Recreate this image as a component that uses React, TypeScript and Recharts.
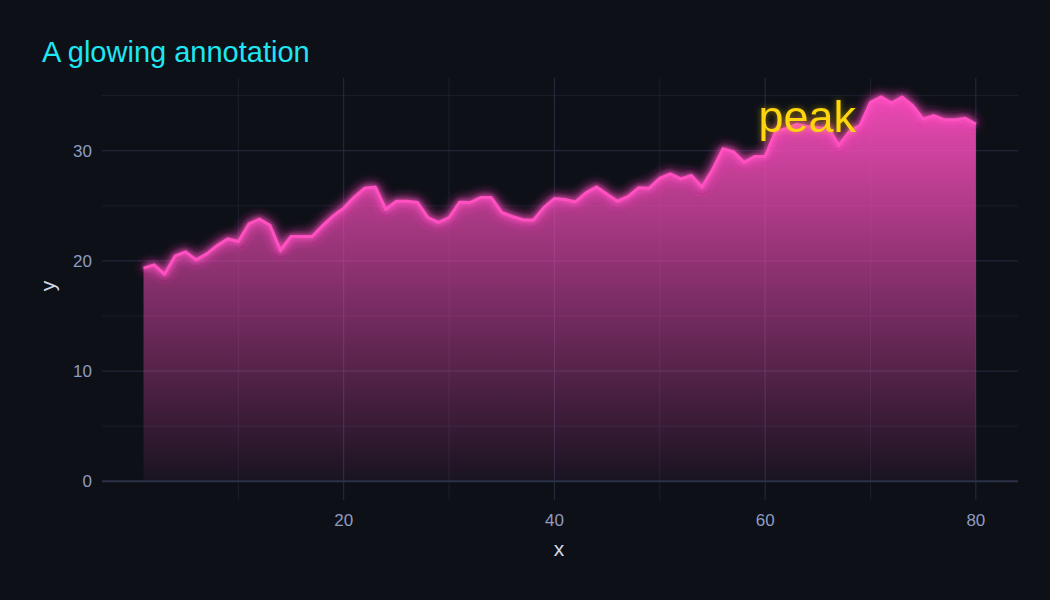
import {
  ComposedChart,
  Area,
  Line,
  XAxis,
  YAxis,
  CartesianGrid,
  ReferenceLine,
  ReferenceDot,
} from "recharts";

// valeurs (x = 1..80)
const values = [
  19.34, 19.64, 18.79, 20.45, 20.82, 20.09, 20.64, 21.4, 22.0, 21.76,
  23.36, 23.79, 23.24, 20.97, 22.21, 22.21, 22.21, 23.21, 24.09, 24.79,
  25.79, 26.6, 26.7, 24.7, 25.42, 25.42, 25.3, 23.94, 23.5, 23.94,
  25.33, 25.3, 25.76, 25.76, 24.4, 24.03, 23.73, 23.7, 24.85, 25.67,
  25.58, 25.36, 26.18, 26.7, 26.06, 25.42, 25.85, 26.64, 26.6, 27.5,
  27.9, 27.45, 27.76, 26.7, 28.27, 30.18, 29.9, 28.94, 29.48, 29.5,
  31.76, 32.0, 32.4, 32.2, 32.06, 32.06, 30.5, 31.76, 32.3, 34.4,
  34.88, 34.33, 34.88, 34.09, 32.88, 33.18, 32.82, 32.82, 32.94, 32.42,
];
const xs = values.map((_, i) => i + 1);

const xTicks = [20, 40, 60, 80];
const yTicks = [0, 10, 20, 30];
const xMajorGrid = [20, 40, 60, 80];
const xMinorGrid = [10, 30, 50, 70];
const yMajorGrid = [10, 20, 30];
const yMinorGrid = [5, 15, 25, 35];

const xDomain: [number, number] = [-2.94, 84];
const yDomain: [number, number] = [-1.7, 36.6];

const annotation = { x: 64, y: 33.1, text: "peak" };

const BG = "#0d1017";
const PINK = "#ff4fc0";

// positions des lignes de grille via l'échelle de l'axe
const xGen = (vals: number[]) => ({ xAxis, offset }: any) =>
  vals.map((v) =>
    xAxis && typeof xAxis.scale === "function"
      ? xAxis.scale(v)
      : offset.left + ((v - xDomain[0]) / (xDomain[1] - xDomain[0])) * offset.width
  );
const yGen = (vals: number[]) => ({ yAxis, offset }: any) =>
  vals.map((v) =>
    yAxis && typeof yAxis.scale === "function"
      ? yAxis.scale(v)
      : offset.top + ((yDomain[1] - v) / (yDomain[1] - yDomain[0])) * offset.height
  );

export default function App() {
  const data = xs.map((x, i) => ({ x, y: values[i] }));

  const PeakLabel = (props: any) => {
    const { cx, cy } = props;
    return (
      <text
        x={cx}
        y={cy}
        textAnchor="middle"
        dominantBaseline="central"
        fill="#ffd60a"
        fontSize={45}
        fontFamily="'Liberation Sans', Arial, sans-serif"
        filter="url(#glowText)"
      >
        {annotation.text}
      </text>
    );
  };

  return (
    <div
      style={{
        position: "absolute",
        left: 0,
        top: 0,
        width: 1050,
        height: 600,
        background: BG,
        fontFamily: "'Liberation Sans', Arial, sans-serif",
      }}
    >
      <div
        style={{
          position: "absolute",
          left: 42,
          top: 34,
          fontSize: 29,
          color: "#1ee6f2",
          lineHeight: "36px",
        }}
      >
        A glowing annotation
      </div>
      <div
        style={{
          position: "absolute",
          left: 549,
          top: 537,
          width: 20,
          textAlign: "center",
          fontSize: 21,
          color: "#d2d8ea",
        }}
      >
        x
      </div>
      <div
        style={{
          position: "absolute",
          left: 36,
          top: 274,
          width: 24,
          textAlign: "center",
          fontSize: 21,
          color: "#d2d8ea",
          transform: "rotate(-90deg)",
        }}
      >
        y
      </div>
      <ComposedChart
        width={1050}
        height={600}
        data={data}
        margin={{ top: 78, right: 32, bottom: 40, left: 42 }}
      >
        <defs>
          <linearGradient id="fillGrad" x1="0" y1="0" x2="0" y2="1">
            <stop offset="0%" stopColor={PINK} stopOpacity={0.92} />
            <stop offset="100%" stopColor={PINK} stopOpacity={0.05} />
          </linearGradient>
          <filter id="glow" x="-5%" y="-30%" width="110%" height="160%">
            <feGaussianBlur in="SourceGraphic" stdDeviation="6" result="b1" />
            <feGaussianBlur in="SourceGraphic" stdDeviation="2.5" result="b2" />
            <feMerge>
              <feMergeNode in="b1" />
              <feMergeNode in="b1" />
              <feMergeNode in="b2" />
              <feMergeNode in="SourceGraphic" />
            </feMerge>
          </filter>
          <filter id="glowText" x="-20%" y="-30%" width="140%" height="160%">
            <feGaussianBlur in="SourceGraphic" stdDeviation="3" result="b" />
            <feComponentTransfer in="b" result="bf">
              <feFuncA type="linear" slope="0.5" />
            </feComponentTransfer>
            <feMerge>
              <feMergeNode in="bf" />
              <feMergeNode in="SourceGraphic" />
            </feMerge>
          </filter>
        </defs>
        <CartesianGrid
          stroke="#1b1f2d"
          verticalCoordinatesGenerator={xGen(xMinorGrid)}
          horizontalCoordinatesGenerator={yGen(yMinorGrid)}
        />
        <CartesianGrid
          stroke="#272d42"
          verticalCoordinatesGenerator={xGen(xMajorGrid)}
          horizontalCoordinatesGenerator={yGen(yMajorGrid)}
        />
        <XAxis
          dataKey="x"
          type="number"
          domain={xDomain}
          ticks={xTicks}
          allowDataOverflow
          axisLine={false}
          tickLine={false}
          height={60}
          tickMargin={8}
          tick={{ fill: "#8e9cc0", fontSize: 17 }}
        />
        <YAxis
          type="number"
          domain={yDomain}
          ticks={yTicks}
          allowDataOverflow
          axisLine={false}
          tickLine={false}
          width={60}
          tickMargin={4}
          tick={{ fill: "#8e9cc0", fontSize: 17 }}
        />
        <Area
          type="linear"
          dataKey="y"
          baseValue={0}
          stroke="none"
          fill="url(#fillGrad)"
          fillOpacity={1}
          isAnimationActive={false}
        />
        <ReferenceLine y={0} stroke="#2b3149" strokeWidth={2} />
        <Line
          type="linear"
          dataKey="y"
          stroke={PINK}
          strokeWidth={3}
          dot={false}
          activeDot={false}
          filter="url(#glow)"
          isAnimationActive={false}
        />
        <ReferenceDot
          x={annotation.x}
          y={annotation.y}
          r={0}
          shape={PeakLabel}
        />
      </ComposedChart>
    </div>
  );
}
